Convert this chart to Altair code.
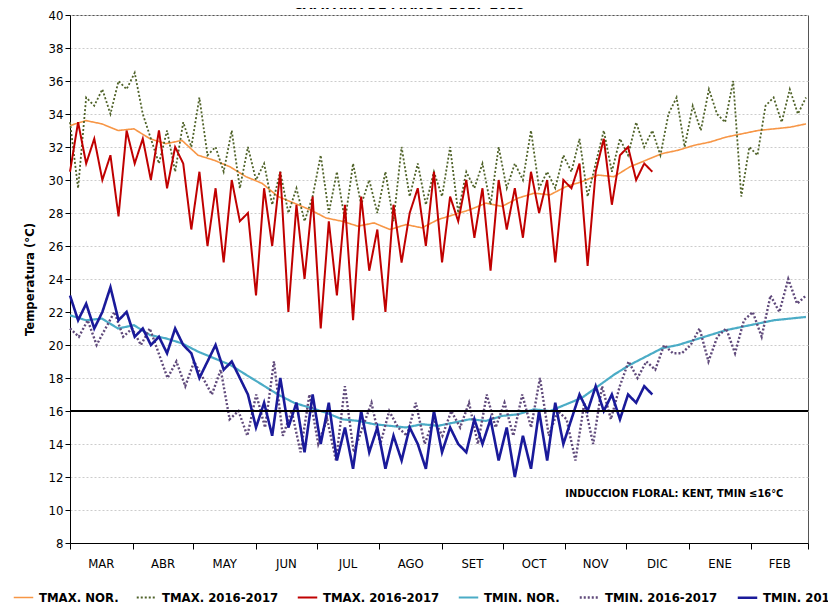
import altair as alt
import pandas as pd

tmax_nor = [33.3,33.6,33.4,33,33.1,32.5,32.2,32.4,31.5,31.2,30.8,30.2,29.8,29,28.6,28.2,27.7,27.5,27.2,27.4,27,27.3,27.1,27.6,27.9,28.2,28.6,28.4,28.9,29.2,29.1,29.6,29.9,30.3,30.2,30.8,31.2,31.6,31.8,32.1,32.3,32.6,32.8,33,33.1,33.2,33.4]
tmin_nor = [21.8,21.5,21.6,21,21.2,20.6,20.4,20.1,19.6,19.2,18.8,18.2,17.6,17,16.5,16.2,15.9,15.5,15.4,15.2,15.1,15,15.2,15.1,15.3,15.5,15.4,15.7,15.8,16.1,16,16.4,16.8,17.5,18.2,18.8,19.3,19.8,20,20.3,20.6,20.9,21.1,21.3,21.5,21.6,21.7]
tmax_dot = [33.5,29.5,35,34.5,35.5,34,36,35.5,
            36.5,34,32.5,31,33,30.5,33.5,32,
            35,31.5,32,30.5,33,29.5,32,
            30,31,28.5,30.5,28,29.5,27.5,29,
            31.5,28,30.5,27.5,31,28.5,30,
            28,30.5,27.5,32,29,31,28.5,30.5,
            29,32,28,30.5,29.5,31,28.5,
            32,29.5,31,30,33,29.5,30.5,
            29.5,31.5,30.5,32.5,29,31,33,
            30.5,32.5,31.5,33.5,32,33,31.5,34,
            35,32,34.5,33,35.5,34,33.5,36,
            29,32,31.5,34.5,35,33.5,35.5,34,35]
tmax_sol = [30.5,33.5,31,32.5,30,31.5,27.8,33,
            31,32.5,30,33,29.5,32,31,
            27,30.5,26,29.5,25,30,27.5,
            28,23,29.5,26,30.5,22,28.5,
            24,29,21,27.5,23,28.5,
            21.5,29,24.5,27,22,28.5,25,
            28,29.5,26,30.5,25,29,27.5,
            30,26.5,29.5,24.5,30,27,
            29.5,26.5,30.5,28,30,
            25,30,29.5,31,24.8,30.5,
            32.5,28.5,31.5,32,30,31,30.5]
tmin_dot = [21,20.5,21.5,20,21,22,20.5,21,
            20,21,19.5,18,19,17.5,19,18,
            17,18.5,15.5,16,14.5,17,15,
            19,14.5,16,13.5,17,14,15.5,13,
            17.5,13.5,15,16.5,14,16,
            15,14.5,16.5,14,15.5,14.5,16,15,
            16.5,14,17,15,16.5,14.5,
            17,15,18,14.5,16,15.5,
            13,16.5,14,17.5,15.5,
            17.5,19,18,19,18.5,20,19.5,
            19.5,20,21,19,20.5,21,19.5,
            21.5,22,20.5,23,22,24,22.5,23]
tmin_sol = [23,21.5,22.5,21,22,23.5,21.5,22,
            20.5,21,20,20.5,19.5,21,20,
            19.5,18,19,20,18.5,19,18,
            17,15,16.5,14.5,18,15,16.5,
            13.5,17,14,16.5,13,15,
            12.5,16,13.5,15,12.5,14.5,13,
            15,14,12.5,16,13.5,15,14,
            13.5,15.5,14,15.5,13,15,
            12,14.5,12.5,16,13,
            16.5,14,15.5,17,16,17.5,
            16,17,15.5,17,16.5,17.5,17]

months = ["MAR","ABR","MAY","JUN","JUL","AGO","SET","OCT","NOV","DIC","ENE","FEB"]
month_start = [0,31,61,92,122,153,184,214,245,275,306,337,365]

names = ["TMAX. NOR.","TMAX. 2016-2017","TMAX. 2016-2017 ","TMIN. NOR.","TMIN. 2016-2017","TMIN. 2016-2017  "]
colors = ["#F79646","#4F6228","#C00000","#4BACC6","#604A7B","#1A1A9A"]
dashes = [[1,0],[2,2],[1,0],[1,0],[2,2],[1,0]]

def series(vals, name, end):
    n = len(vals)
    return pd.DataFrame({"day": [i*end/(n-1) for i in range(n)], "t": vals, "s": name})

df = pd.concat([
    series(tmax_nor, names[0], 364),
    series(tmax_dot, names[1], 364),
    series(tmax_sol, names[2], 288),
    series(tmin_nor, names[3], 364),
    series(tmin_dot, names[4], 364),
    series(tmin_sol, names[5], 288),
])

FONT = "DejaVu Sans Condensed"
W, H = 738, 528
x = alt.X("day:Q", scale=alt.Scale(domain=[0,365], nice=False),
          axis=alt.Axis(values=month_start, labels=False, title=None, grid=False,
                        tickSize=6, domainColor="black", tickColor="black"))
y = alt.Y("t:Q", scale=alt.Scale(domain=[8,40], nice=False),
          axis=alt.Axis(values=list(range(8,41,2)), tickCount=17, title="Temperatura (°C)", titleFontWeight="bold",
                        titleFontSize=13, labelFontSize=13, gridDash=[2,2], gridColor="#cccccc",
                        labelOverlap=False, labelSeparation=0, domainColor="black", tickColor="black", titlePadding=12))

lines = alt.Chart(df).mark_line().encode(
    x=x, y=y, detail="s:N", order="day:Q",
    color=alt.Color("s:N", scale=alt.Scale(domain=names, range=colors),
                    legend=alt.Legend(orient="none", legendX=-58, legendY=H+43, direction="horizontal",
                                      columns=6, title=None,
                                      symbolType="stroke", symbolStrokeWidth=2.5, symbolSize=380,
                                      labelFontWeight="bold", labelFontSize=13, columnPadding=14,
                                      labelFont=FONT)),
    strokeDash=alt.StrokeDash("s:N", scale=alt.Scale(domain=names, range=dashes), legend=None),
    strokeWidth=alt.StrokeWidth("s:N", scale=alt.Scale(domain=names, range=[1.6,2.6,1.6,1.6,2.6,1.6]), legend=None),
)

rule = alt.Chart(pd.DataFrame({"t": [16]})).mark_rule(color="black", strokeWidth=2).encode(y="t:Q")

mdf = pd.DataFrame({"m": months, "mid": [(month_start[i]+month_start[i+1])/2 for i in range(12)]})
mlabels = alt.Chart(mdf).mark_text(fontSize=13, baseline="middle", font=FONT).encode(
    x="mid:Q", y=alt.value(H+21), text="m:N")

note = alt.Chart(pd.DataFrame({"day":[245],"t":[11],"txt":["INDUCCION FLORAL: KENT, TMIN ≤16°C"]})).mark_text(
    fontSize=11, fontWeight="bold", align="left", font=FONT).encode(x="day:Q", y="t:Q", text="txt:N")

title = alt.Chart(pd.DataFrame({"txt":["CAMPAÑA DE MANGO 2017-2018"]})).mark_text(
    fontSize=14, fontWeight="bold", font=FONT).encode(x=alt.value(W/2-30), y=alt.value(-10), text="txt:N")

chart = alt.layer(lines, rule, mlabels, note, title).properties(
    width=W, height=H, autosize=alt.AutoSizeParams(type="none"),
    padding={"top": 7, "left": 62, "right": 20, "bottom": 70}
).configure_view(stroke="#555555").configure_axis(labelFont=FONT, titleFont=FONT)

chart.save("out.html", embed_options={"renderer": "svg", "actions": False})
